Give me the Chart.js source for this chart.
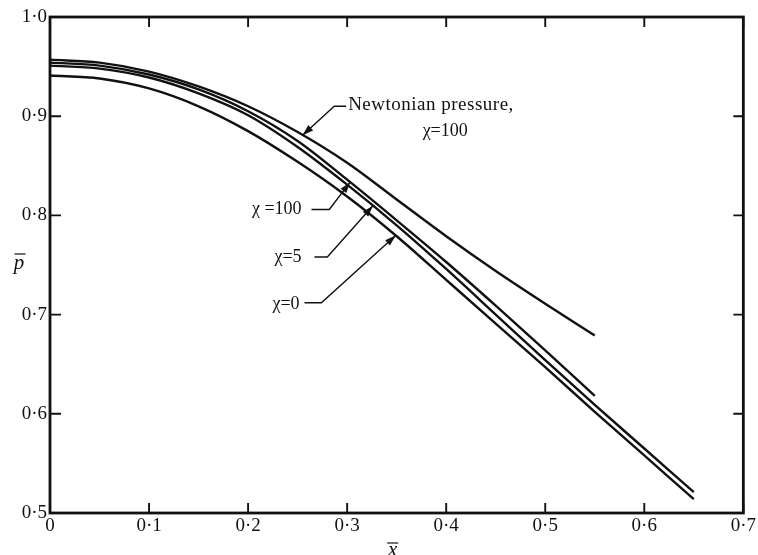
<!DOCTYPE html>
<html>
<head>
<meta charset="utf-8">
<script src="https://cdn.jsdelivr.net/npm/chart.js@4.4.1/dist/chart.umd.min.js"></script>
<style>
  html, body { margin: 0; padding: 0; background: #fff; }
  #wrap { width: 758px; height: 555px; }
</style>
</head>
<body>
<div id="wrap"><canvas id="chart" width="758" height="555"></canvas></div>
<script>
// x positions along the body (x bar)
const xValues = [0, 0.05, 0.1, 0.15, 0.2, 0.25, 0.3, 0.35, 0.4, 0.45, 0.5, 0.55, 0.6, 0.65];

// pressure ratio p bar
const newtonian = [0.957, 0.954, 0.945, 0.930, 0.910, 0.884, 0.853, 0.816, 0.779, 0.744, 0.711, 0.679];
const chi100    = [0.954, 0.951, 0.942, 0.927, 0.905, 0.875, 0.836, 0.795, 0.753, 0.709, 0.664, 0.618];
const chi5      = [0.951, 0.948, 0.939, 0.923, 0.901, 0.869, 0.831, 0.790, 0.746, 0.700, 0.654, 0.609, 0.565, 0.521];
const chi0      = [0.941, 0.938, 0.928, 0.910, 0.885, 0.854, 0.819, 0.779, 0.735, 0.691, 0.647, 0.602, 0.558, 0.514];

const xRange = [0, 0.7];
const yRange = [0.5, 1.0];

const INK = '#111';
const FONT = '"Liberation Serif", "DejaVu Serif", serif';

const toPts = ys => ys.map((y, i) => ({ x: xValues[i], y: y }));

function fmt(v) {
  if (Math.abs(v) < 1e-9) return '0';
  return v.toFixed(1).replace('.', '\u00B7');
}

function valueAt(ys, xv) {
  for (let i = 0; i < ys.length - 1; i++) {
    if (xv >= xValues[i] && xv <= xValues[i + 1]) {
      const t = (xv - xValues[i]) / (xValues[i + 1] - xValues[i]);
      return ys[i] + t * (ys[i + 1] - ys[i]);
    }
  }
  return ys[ys.length - 1];
}

// labels with leader lines ending in an arrow on a curve
const labels = [
  { text: 'Newtonian pressure,', x: 0.301, y: 0.906, align: 'left', size: 19, spacing: 0.5 },
  { text: '\u03C7=100', x: 0.399, y: 0.880, align: 'center', size: 18, spacing: 0 },
  { text: '\u03C7 =100', x: 0.254, y: 0.801, align: 'right', size: 18, spacing: 0 },
  { text: '\u03C7=5', x: 0.254, y: 0.753, align: 'right', size: 18, spacing: 0 },
  { text: '\u03C7=0', x: 0.252, y: 0.706, align: 'right', size: 18, spacing: 0 }
];
const leaders = [
  { from: [0.299, 0.910], elbow: [0.287, 0.910], series: newtonian, tipX: 0.255 },
  { from: [0.264, 0.806], elbow: [0.282, 0.806], series: chi100, tipX: 0.303 },
  { from: [0.267, 0.758], elbow: [0.280, 0.758], series: chi5, tipX: 0.326 },
  { from: [0.257, 0.712], elbow: [0.274, 0.712], series: chi0, tipX: 0.349 }
];

const framePlugin = {
  id: 'frame',
  afterDatasetsDraw(chart) {
    const { ctx, chartArea: a, scales: { x, y } } = chart;
    ctx.save();
    ctx.strokeStyle = INK;
    ctx.lineWidth = 2.8;
    ctx.strokeRect(a.left, a.top, a.right - a.left, a.bottom - a.top);

    // inward ticks on all four sides
    ctx.lineWidth = 1.9;
    ctx.beginPath();
    x.ticks.forEach(t => {
      const px = x.getPixelForValue(t.value);
      ctx.moveTo(px, a.bottom); ctx.lineTo(px, a.bottom - 10);
      ctx.moveTo(px, a.top); ctx.lineTo(px, a.top + 10);
    });
    y.ticks.forEach(t => {
      const py = y.getPixelForValue(t.value);
      ctx.moveTo(a.left, py); ctx.lineTo(a.left + 11, py);
      ctx.moveTo(a.right, py); ctx.lineTo(a.right - 10, py);
    });
    ctx.stroke();

    // annotation text
    ctx.fillStyle = INK;
    ctx.textBaseline = 'alphabetic';
    labels.forEach(l => {
      ctx.font = l.size + 'px ' + FONT;
      ctx.letterSpacing = l.spacing + 'px';
      ctx.textAlign = l.align;
      ctx.fillText(l.text, x.getPixelForValue(l.x), y.getPixelForValue(l.y));
    });
    ctx.letterSpacing = '0px';

    // leader lines with arrowheads
    leaders.forEach(d => {
      const fx = x.getPixelForValue(d.from[0]), fy = y.getPixelForValue(d.from[1]);
      const ex = x.getPixelForValue(d.elbow[0]), ey = y.getPixelForValue(d.elbow[1]);
      const tx = x.getPixelForValue(d.tipX), ty = y.getPixelForValue(valueAt(d.series, d.tipX));
      ctx.lineWidth = 1.4;
      ctx.beginPath();
      ctx.moveTo(fx, fy); ctx.lineTo(ex, ey); ctx.lineTo(tx, ty);
      ctx.stroke();
      const ang = Math.atan2(ty - ey, tx - ex);
      const len = 11, hw = 3.6;
      const bx = tx - len * Math.cos(ang), by = ty - len * Math.sin(ang);
      ctx.beginPath();
      ctx.moveTo(tx, ty);
      ctx.lineTo(bx + hw * Math.sin(ang), by - hw * Math.cos(ang));
      ctx.lineTo(bx - hw * Math.sin(ang), by + hw * Math.cos(ang));
      ctx.closePath();
      ctx.fill();
    });

    // axis titles: italic letters with an overbar
    ctx.font = 'italic 21px ' + FONT;
    ctx.textAlign = 'center';
    const bar = (cx, top, w) => {
      ctx.lineWidth = 1.2;
      ctx.beginPath(); ctx.moveTo(cx - w / 2, top); ctx.lineTo(cx + w / 2, top); ctx.stroke();
    };
    const ymid = (a.top + a.bottom) / 2;
    ctx.fillText('p', 19, ymid + 4);
    bar(20, ymid - 11, 11);
    const xmid = (a.left + a.right) / 2;
    ctx.fillText('x', xmid - 4, 556);
    bar(xmid - 4, 543, 11);
    ctx.restore();
  }
};

const lineStyle = {
  borderColor: INK,
  borderWidth: 2.4,
  pointRadius: 0,
  fill: false,
  cubicInterpolationMode: 'monotone'
};

new Chart(document.getElementById('chart'), {
  type: 'line',
  data: {
    datasets: [
      { label: 'Newtonian pressure, \u03C7=100', data: toPts(newtonian), ...lineStyle },
      { label: '\u03C7=100', data: toPts(chi100), ...lineStyle },
      { label: '\u03C7=5', data: toPts(chi5), ...lineStyle },
      { label: '\u03C7=0', data: toPts(chi0), ...lineStyle }
    ]
  },
  options: {
    responsive: false,
    animation: false,
    layout: { padding: { top: 17, right: 14, left: 0, bottom: 0 } },
    plugins: { legend: { display: false }, tooltip: { enabled: false } },
    scales: {
      x: {
        type: 'linear',
        min: xRange[0], max: xRange[1],
        grid: { display: false, drawTicks: false },
        border: { display: false },
        ticks: { stepSize: 0.1, color: INK, font: { family: FONT, size: 19 }, padding: 2, maxRotation: 0, callback: v => fmt(v) },
        afterFit: s => { s.height = 42; }
      },
      y: {
        type: 'linear',
        min: yRange[0], max: yRange[1],
        grid: { display: false, drawTicks: false },
        border: { display: false },
        ticks: { stepSize: 0.1, color: INK, font: { family: FONT, size: 19 }, padding: 3, callback: v => fmt(v) },
        afterFit: s => { s.width = 50; }
      }
    }
  },
  plugins: [framePlugin]
});
</script>
</body>
</html>
